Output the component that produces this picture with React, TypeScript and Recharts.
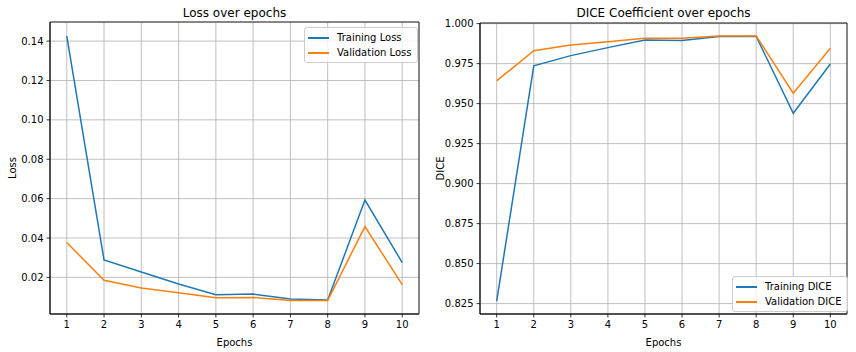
import React from 'react';
import {
  LineChart,
  Line,
  XAxis,
  YAxis,
  CartesianGrid,
  Legend,
  ReferenceArea,
} from 'recharts';

// values
const epochs = [1, 2, 3, 4, 5, 6, 7, 8, 9, 10];
const trainingLoss = [0.1425, 0.0288, 0.0227, 0.0166, 0.0112, 0.0115, 0.009, 0.0085, 0.0593, 0.0275];
const validationLoss = [0.0377, 0.0185, 0.0146, 0.0122, 0.0097, 0.0098, 0.0083, 0.0083, 0.0458, 0.0163];
const trainingDice = [0.8265, 0.9736, 0.98, 0.985, 0.9898, 0.9894, 0.9919, 0.9921, 0.944, 0.9748];
const validationDice = [0.9642, 0.9831, 0.9867, 0.9887, 0.9908, 0.9908, 0.9923, 0.9923, 0.9565, 0.9846];

const lossTicks = [0.02, 0.04, 0.06, 0.08, 0.1, 0.12, 0.14];
const diceTicks = [0.825, 0.85, 0.875, 0.9, 0.925, 0.95, 0.975, 1.0];

const lossData = epochs.map((e, i) => ({
  epoch: e,
  train: trainingLoss[i],
  val: validationLoss[i],
}));
const diceData = epochs.map((e, i) => ({
  epoch: e,
  train: trainingDice[i],
  val: validationDice[i],
}));

const BLUE = '#1f77b4';
const ORANGE = '#ff7f0e';
const X_DOMAIN: [number, number] = [0.55, 10.45];

const MplLegend = (props: any) => {
  const { payload } = props;
  return (
    <div
      style={{
        background: 'rgba(255,255,255,0.8)',
        border: '1px solid #cccccc',
        borderRadius: 3,
        padding: '2px 5px 2px 3px',
        fontSize: 10,
        color: '#000',
      }}
    >
      {(payload || []).map((p: any) => (
        <div key={p.value} style={{ display: 'flex', alignItems: 'center', height: 15 }}>
          <div style={{ width: 21, height: 2, background: p.color, marginRight: 8 }} />
          <span>{p.value}</span>
        </div>
      ))}
    </div>
  );
};

interface PanelProps {
  data: any[];
  title: string;
  yLabel: string;
  yDomain: [number, number];
  yTicks: number[];
  digits: number;
  yWidth: number;
  top: number;
  trainName: string;
  valName: string;
  legendPos: React.CSSProperties;
}

const Panel: React.FC<PanelProps> = ({
  data, title, yLabel, yDomain, yTicks, digits, yWidth, top, trainName, valName, legendPos,
}) => {
  const w = 428;
  const h = 352;
  const right = 9;
  const plotCenter = yWidth + (w - right - yWidth) / 2;
  return (
    <div style={{ position: 'relative', width: w, height: h }}>
      <div
        style={{
          position: 'absolute',
          left: plotCenter - 150,
          width: 300,
          top: 6,
          textAlign: 'center',
          fontSize: 12,
          color: '#000',
        }}
      >
        {title}
      </div>
      <LineChart width={w} height={h} data={data} margin={{ top, right, left: 0, bottom: 0 }}>
        <CartesianGrid stroke="#b0b0b0" strokeWidth={0.8} />
        <XAxis
          type="number"
          dataKey="epoch"
          domain={X_DOMAIN}
          ticks={epochs}
          height={38}
          tickSize={3.5}
          tickMargin={3}
          stroke="#000"
          strokeWidth={0.8}
          tick={{ fill: '#000', fontSize: 10 }}
          label={{ value: 'Epochs', position: 'insideBottom', offset: 6, fill: '#000', fontSize: 10 }}
        />
        <YAxis
          type="number"
          domain={yDomain}
          ticks={yTicks}
          width={yWidth}
          tickSize={3.5}
          tickMargin={3}
          stroke="#000"
          strokeWidth={0.8}
          tick={{ fill: '#000', fontSize: 10 }}
          tickFormatter={(v: number) => v.toFixed(digits)}
          label={{
            value: yLabel,
            angle: -90,
            position: 'insideLeft',
            offset: 12,
            fill: '#000',
            fontSize: 10,
            style: { textAnchor: 'middle' },
          }}
        />
        <ReferenceArea
          x1={X_DOMAIN[0]}
          x2={X_DOMAIN[1]}
          y1={yDomain[0]}
          y2={yDomain[1]}
          fill="none"
          stroke="#000"
          strokeWidth={0.8}
        />
        <Line
          type="linear"
          dataKey="train"
          name={trainName}
          stroke={BLUE}
          strokeWidth={1.5}
          dot={false}
          isAnimationActive={false}
        />
        <Line
          type="linear"
          dataKey="val"
          name={valName}
          stroke={ORANGE}
          strokeWidth={1.5}
          dot={false}
          isAnimationActive={false}
        />
        <Legend
          layout="horizontal"
          verticalAlign="middle"
          align="center"
          content={<MplLegend />}
          wrapperStyle={{ width: 'auto', height: 'auto', ...legendPos }}
        />
      </LineChart>
    </div>
  );
};

export default function App() {
  return (
    <div
      style={{
        position: 'absolute',
        left: 0,
        top: 0,
        width: 856,
        height: 352,
        display: 'flex',
        background: '#fff',
        fontFamily: '"DejaVu Sans", sans-serif',
      }}
    >
      <Panel
        data={lossData}
        title="Loss over epochs"
        yLabel="Loss"
        yDomain={[0.0014, 0.1497]}
        yTicks={lossTicks}
        digits={2}
        yWidth={50}
        top={22}
        trainName="Training Loss"
        valName="Validation Loss"
        legendPos={{ left: 304, top: 27 }}
      />
      <Panel
        data={diceData}
        title="DICE Coefficient over epochs"
        yLabel="DICE"
        yDomain={[0.8185, 1.0004]}
        yTicks={diceTicks}
        digits={3}
        yWidth={52}
        top={23}
        trainName="Training DICE"
        valName="Validation DICE"
        legendPos={{ left: 304, top: 276 }}
      />
    </div>
  );
}
